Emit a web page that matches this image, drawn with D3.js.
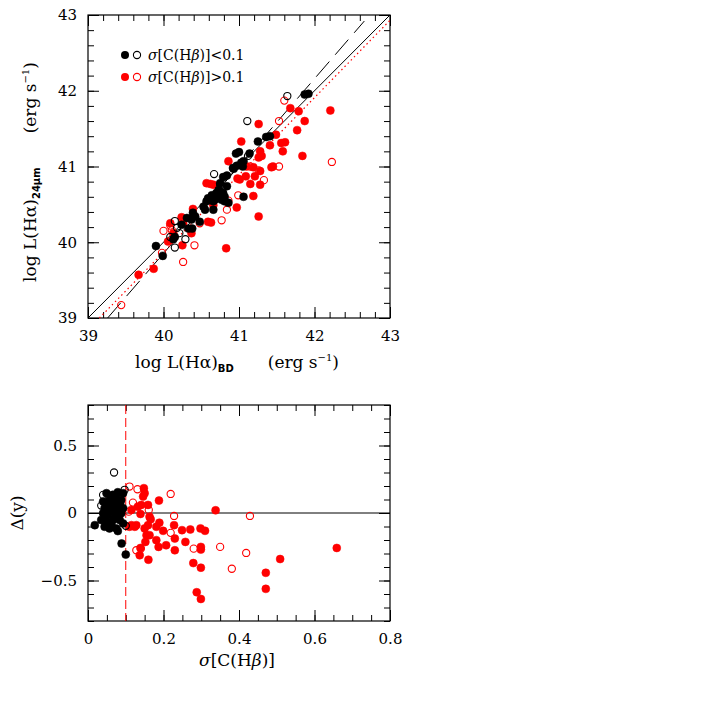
<!DOCTYPE html>
<html>
<head>
<meta charset="utf-8">
<script src="https://cdn.jsdelivr.net/npm/d3@7"></script>
<style>
  body { margin: 0; background: #fff; }
  text { font-family: "DejaVu Serif", serif; fill: #000; }
</style>
</head>
<body>
<div id="chart"></div>
<script>
// top panel: log L(Ha)_BD vs log L(Ha)_24um
var topBlackFilled = [[41.87,41.95],[41.92,41.96],[41.36,41.39],[41.41,41.40],[41.25,41.33],
  [40.96,41.17],[41.00,41.19],[41.14,41.17],[40.92,40.98],[40.97,41.01],[41.05,41.00],[41.03,41.05],[41.06,41.07],[40.93,40.97],
  [40.79,40.86],[40.84,40.88],[40.75,40.78],[40.84,40.74],[40.75,40.67],[40.79,40.65],[40.70,40.60],[40.81,40.60],
  [40.64,40.62],[40.62,40.56],[40.68,40.56],[40.77,40.56],[40.81,40.54],[40.86,40.52],[41.06,40.60],[40.70,40.65],
  [40.73,40.69],[40.66,40.43],[40.66,40.54],[40.53,40.47],[40.55,40.43],[40.57,40.54],[40.59,40.58],[40.39,40.39],
  [40.42,40.34],[40.37,40.30],[40.38,40.18],[40.24,40.23],[40.15,40.07],[39.90,39.95],[39.99,39.82],[40.31,40.32],
  [40.33,40.18],[40.13,40.04],[40.48,40.27]];
var topBlackOpen = [[41.64,41.93],[41.11,41.60],[41.12,41.14],[40.67,40.90],[40.75,40.76],[40.15,40.28],[40.09,40.07],
  [40.15,39.93],[40.29,40.04],[40.21,40.12],[40.18,40.19]];
var topRedFilled = [[41.68,41.77],[41.79,41.73],[42.21,41.74],[41.87,41.60],[41.26,41.56],[41.77,41.48],[41.03,41.33],
  [41.49,41.42],[41.41,41.28],[41.56,41.31],[41.61,41.32],[41.58,41.20],[41.84,41.14],[41.28,41.20],[41.30,41.14],
  [41.26,41.12],[40.86,41.07],[41.19,40.99],[41.28,40.94],[41.09,40.87],[41.21,40.87],[41.43,40.99],[41.45,41.00],
  [40.98,40.84],[41.01,40.83],[41.28,40.76],[41.15,40.77],[41.10,41.00],[40.57,40.78],[40.62,40.77],[40.66,40.76],
  [40.97,40.46],[41.26,40.34],[41.19,40.61],[40.83,39.92],[40.59,40.27],[40.63,40.26],[40.37,40.12],[40.39,40.44],
  [40.66,40.49],[40.24,40.33],[40.26,40.25],[40.09,40.25],[40.13,40.12],[40.25,39.96],[40.06,40.01],[39.87,39.65],[39.67,39.57]];
var topRedOpen = [[41.60,41.87],[41.53,41.60],[42.23,41.06],[41.15,41.00],[41.53,41.00],[41.33,40.82],[41.26,40.95],
  [40.99,40.62],[40.86,40.55],[40.84,40.43],[40.77,40.29],[40.48,40.25],[40.41,39.96],[40.26,39.74],[40.09,40.22],
  [40.00,40.15],[40.11,40.16],[39.44,39.17],[39.98,39.86]];

var oneToOne = [[39, 39], [43, 43]];
var fitDashed = [[39.26, 39], [42.66, 42.92]];
var fitDotted = [[39.15, 39], [43, 42.93]];

// bottom panel: sigma[C(Hb)] vs residual
var botBlackFilled = [[0.049,0.147],[0.066,0.135],[0.079,0.154],[0.093,0.147],[0.040,0.085],[0.057,0.097],[0.075,0.110],
  [0.088,0.097],[0.044,0.035],[0.062,0.047],[0.079,0.047],[0.093,0.035],[0.040,-0.002],[0.053,-0.015],[0.071,0.010],
  [0.088,-0.002],[0.035,-0.052],[0.049,-0.065],[0.066,-0.052],[0.084,-0.052],[0.044,-0.102],[0.057,-0.114],[0.075,-0.114],
  [0.093,-0.077],[0.018,-0.09],[0.079,-0.134],[0.089,-0.226],[0.100,-0.308],[0.050,0.06],[0.068,0.075],[0.058,0.02],
  [0.045,-0.03],[0.072,-0.03],[0.062,-0.085],[0.085,0.07],[0.065,0.115]];
var botBlackOpen = [[0.069,0.30],[0.040,0.134],[0.035,0.055],[0.084,0.085],[0.097,0.172],[0.100,-0.095]];
var botRedFilled = [[0.148,0.184],[0.150,0.147],[0.146,0.122],[0.188,0.092],[0.141,0.060],[0.159,0.060],[0.132,0.047],
  [0.115,0.023],[0.139,-0.007],[0.163,-0.027],[0.166,-0.047],[0.338,0.020],[0.115,-0.09],[0.124,-0.102],[0.110,-0.102],
  [0.128,-0.09],[0.150,-0.114],[0.159,-0.09],[0.163,-0.164],[0.181,-0.102],[0.199,-0.132],[0.228,-0.090],[0.249,-0.127],
  [0.271,-0.122],[0.298,-0.114],[0.310,-0.132],[0.152,-0.214],[0.181,-0.201],[0.187,-0.251],[0.207,-0.239],[0.230,-0.276],
  [0.258,-0.214],[0.299,-0.251],[0.299,-0.271],[0.137,-0.313],[0.160,-0.346],[0.279,-0.371],[0.299,-0.405],[0.288,-0.587],
  [0.299,-0.637],[0.659,-0.259],[0.509,-0.341],[0.471,-0.443],[0.471,-0.562],[0.230,-0.189],[0.189,-0.072],[0.155,-0.165],
  [0.139,-0.259]];
var botRedOpen = [[0.110,0.196],[0.131,0.176],[0.219,0.141],[0.119,0.077],[0.161,0.023],[0.108,0.010],[0.228,-0.022],
  [0.219,-0.147],[0.280,-0.264],[0.128,-0.276],[0.140,-0.264],[0.350,-0.251],[0.381,-0.413],[0.419,-0.296],[0.429,-0.022]];

var topTicks = [39, 40, 41, 42, 43];
var botXTicks = [0, 0.2, 0.4, 0.6, 0.8];
var botYTicks = [-0.5, 0, 0.5];
var sigmaCut = 0.1;

var svg = d3.select("#chart").append("svg")
  .attr("width", 708).attr("height", 708)
  .style("background", "#fff");

var left = 88, right = 390;

var xTop = d3.scaleLinear().domain([39, 43]).range([left, right]);
var yTop = d3.scaleLinear().domain([39, 43]).range([318, 15]);
var xBot = d3.scaleLinear().domain([0, 0.8]).range([left, right]);
var yBot = d3.scaleLinear().domain([-0.8, 0.8]).range([621, 405]);

function range(a, b, step) {
  var out = [];
  for (var v = a; v <= b + step / 2; v += step) out.push(+v.toFixed(4));
  return out;
}

// inward ticks on all four sides, labels on bottom and left
function frame(x, y, xMinor, xMajor, yMinor, yMajor, xFmt, yFmt) {
  var g = svg.append("g");
  var y0 = y.range()[0], y1 = y.range()[1], x0 = x.range()[0], x1 = x.range()[1];

  [[xMinor, 6], [xMajor, 11]].forEach(function(t) {
    g.append("g").attr("transform", "translate(0," + y0 + ")")
      .call(d3.axisBottom(x).tickValues(t[0]).tickSize(-t[1]).tickFormat(""));
    g.append("g").attr("transform", "translate(0," + y1 + ")")
      .call(d3.axisTop(x).tickValues(t[0]).tickSize(-t[1]).tickFormat(""));
  });
  [[yMinor, 6], [yMajor, 11]].forEach(function(t) {
    g.append("g").attr("transform", "translate(" + x0 + ",0)")
      .call(d3.axisLeft(y).tickValues(t[0]).tickSize(-t[1]).tickFormat(""));
    g.append("g").attr("transform", "translate(" + x1 + ",0)")
      .call(d3.axisRight(y).tickValues(t[0]).tickSize(-t[1]).tickFormat(""));
  });

  g.append("g").attr("transform", "translate(0," + y0 + ")")
    .call(d3.axisBottom(x).tickValues(xMajor).tickSize(0).tickPadding(12).tickFormat(xFmt));
  g.append("g").attr("transform", "translate(" + x0 + ",0)")
    .call(d3.axisLeft(y).tickValues(yMajor).tickSize(0).tickPadding(11).tickFormat(yFmt));

  g.selectAll(".domain").remove();
  g.selectAll(".tick line").attr("stroke", "#000").attr("stroke-width", 1);
  g.selectAll(".tick text").style("font-family", "'DejaVu Serif', serif").style("font-size", "15px");

  g.append("rect").attr("x", x0).attr("y", y1)
    .attr("width", x1 - x0).attr("height", y0 - y1)
    .attr("fill", "none").attr("stroke", "#000").attr("stroke-width", 1.2);
}

function dots(data, x, y, color, filled) {
  svg.append("g").selectAll("circle")
    .data(data)
    .enter().append("circle")
    .attr("cx", function(d) { return x(d[0]); })
    .attr("cy", function(d) { return y(d[1]); })
    .attr("r", filled ? 4 : 3.6)
    .attr("fill", filled ? color : "none")
    .attr("stroke", color)
    .attr("stroke-width", filled ? 0.5 : 1.1);
}

var num = function(d) { return d === 0 ? "0" : d3.format("")(d).replace("-", "\u2212"); };

// ---- top panel
frame(xTop, yTop, range(39, 43, 0.2), topTicks, range(39, 43, 0.2), topTicks, num, num);

var line = function(x, y) {
  return d3.line().x(function(d) { return x(d[0]); }).y(function(d) { return y(d[1]); });
};
svg.append("path").datum(oneToOne).attr("d", line(xTop, yTop))
  .attr("stroke", "#000").attr("stroke-width", 1).attr("fill", "none");
svg.append("path").datum(fitDashed).attr("d", line(xTop, yTop))
  .attr("stroke", "#000").attr("stroke-width", 1).attr("stroke-dasharray", "20,9").attr("fill", "none");
svg.append("path").datum(fitDotted).attr("d", line(xTop, yTop))
  .attr("stroke", "red").attr("stroke-width", 1.2).attr("stroke-dasharray", "1.5,3").attr("fill", "none");

dots(topRedFilled, xTop, yTop, "red", true);
dots(topRedOpen, xTop, yTop, "red", false);
dots(topBlackFilled, xTop, yTop, "#000", true);
dots(topBlackOpen, xTop, yTop, "#000", false);

// legend
var legend = [
  { color: "#000", label: "<0.1", y: 55 },
  { color: "red", label: ">0.1", y: 77 }
];
legend.forEach(function(l) {
  svg.append("circle").attr("cx", 125).attr("cy", l.y).attr("r", 4).attr("fill", l.color);
  svg.append("circle").attr("cx", 137).attr("cy", l.y).attr("r", 3.6)
    .attr("fill", "none").attr("stroke", l.color).attr("stroke-width", 1.1);
  var t = svg.append("text").attr("x", 148).attr("y", l.y + 5).style("font-size", "14px");
  t.append("tspan").style("font-style", "italic").text("\u03c3");
  t.append("tspan").text("[C(H");
  t.append("tspan").style("font-style", "italic").text("\u03b2");
  t.append("tspan").text(")]" + l.label);
});

// axis titles
var xt = svg.append("text").attr("x", 237).attr("y", 368)
  .attr("text-anchor", "middle").style("font-size", "17px");
xt.append("tspan").text("log L(H\u03b1)");
xt.append("tspan").attr("dy", 4).style("font-family", "'DejaVu Sans', sans-serif")
  .style("font-weight", "bold").style("font-size", "10px").text("BD");
xt.append("tspan").attr("dy", -4).text("\u2003\u2003(erg s");
xt.append("tspan").attr("dy", -7).style("font-size", "10px").text("\u22121");
xt.append("tspan").attr("dy", 7).text(")");

var yt = svg.append("text").attr("transform", "translate(36,172) rotate(-90)")
  .attr("text-anchor", "middle").style("font-size", "17px");
yt.append("tspan").text("log L(H\u03b1)");
yt.append("tspan").attr("dy", 4).style("font-family", "'DejaVu Sans', sans-serif")
  .style("font-weight", "bold").style("font-size", "10px").text("24\u03bcm");
yt.append("tspan").attr("dy", -4).text("\u2003\u2003(erg s");
yt.append("tspan").attr("dy", -7).style("font-size", "10px").text("\u22121");
yt.append("tspan").attr("dy", 7).text(")");

// ---- bottom panel
frame(xBot, yBot, range(0, 0.8, 0.05), botXTicks, range(-0.8, 0.8, 0.1), botYTicks, num, num);

svg.append("line")
  .attr("x1", xBot(0)).attr("x2", xBot(0.8)).attr("y1", yBot(0)).attr("y2", yBot(0))
  .attr("stroke", "#000").attr("stroke-width", 1);
svg.append("line")
  .attr("x1", xBot(sigmaCut)).attr("x2", xBot(sigmaCut)).attr("y1", yBot(0.8)).attr("y2", yBot(-0.8))
  .attr("stroke", "red").attr("stroke-width", 1).attr("stroke-dasharray", "9,4");

dots(botRedFilled, xBot, yBot, "red", true);
dots(botRedOpen, xBot, yBot, "red", false);
dots(botBlackFilled, xBot, yBot, "#000", true);
dots(botBlackOpen, xBot, yBot, "#000", false);

var st = svg.append("text").attr("x", 237).attr("y", 666)
  .attr("text-anchor", "middle").style("font-size", "17px");
st.append("tspan").style("font-style", "italic").text("\u03c3");
st.append("tspan").text("[C(H");
st.append("tspan").style("font-style", "italic").text("\u03b2");
st.append("tspan").text(")]");

svg.append("text").attr("transform", "translate(23,513) rotate(-90)")
  .attr("text-anchor", "middle").style("font-size", "17px").text("\u0394(y)");
</script>
</body>
</html>
